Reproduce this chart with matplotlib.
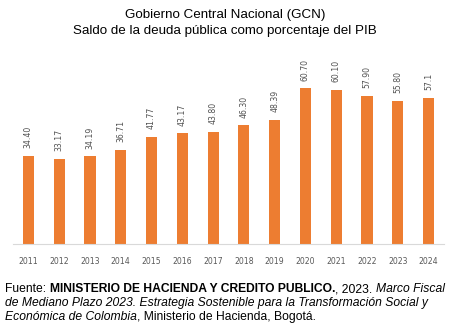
import matplotlib.pyplot as plt
import numpy as np

# Deuda bruta del GCN como % del PIB
years = ['2011', '2012', '2013', '2014', '2015', '2016', '2017',
         '2018', '2019', '2020', '2021', '2022', '2023', '2024']
debt = [34.40, 33.17, 34.19, 36.71, 41.77, 43.17, 43.80,
        46.30, 48.39, 60.70, 60.10, 57.90, 55.80, 57.1]
debt_labels = ['34.40', '33.17', '34.19', '36.71', '41.77', '43.17', '43.80',
               '46.30', '48.39', '60.70', '60.10', '57.90', '55.80', '57.1']

BAR_COLOR = '#ED7D31'

plt.rcParams['font.family'] = ['Liberation Sans', 'DejaVu Sans']

fig = plt.figure(figsize=(4.51, 3.29), dpi=100)
W, H = 451, 329

# eje de barras: base en y=244 px
ax = fig.add_axes([13 / W, 1 - 244 / H, (444 - 13) / W, (244 - 84) / H])
x = np.arange(len(years))
ax.bar(x, debt, width=0.36, color=BAR_COLOR)
ax.set_xlim(-0.5, len(years) - 0.5)
ax.set_ylim(0, 62.4)

for xi, v, lab in zip(x, debt, debt_labels):
    ax.text(xi, v + 3.0, lab, rotation=90, ha='center', va='bottom',
            fontsize=5.6, color='#505050', family='DejaVu Sans', clip_on=False)

ax.set_xticks(x)
ax.set_xticklabels(years, fontsize=5.6, color='#595959', family='DejaVu Sans')
ax.tick_params(axis='x', length=0, pad=9)
ax.set_yticks([])
for s in ['top', 'right', 'left']:
    ax.spines[s].set_visible(False)
ax.spines['bottom'].set_color('#d9d9d9')
ax.spines['bottom'].set_linewidth(0.8)

# títulos
fig.text(225 / W, 1 - 15 / H, 'Gobierno Central Nacional (GCN)',
         ha='center', va='center', fontsize=9.6, color='black')
fig.text(225 / W, 1 - 31 / H, 'Saldo de la deuda pública como porcentaje del PIB',
         ha='center', va='center', fontsize=9.6, color='black')

# fuente
fs = 8.75
y1 = 1 - 289 / H
t = fig.text(5 / W, y1, 'Fuente: ', fontsize=fs, va='center')
t = ax.annotate('MINISTERIO DE HACIENDA Y CREDITO PUBLICO.', xycoords=t,
                xy=(1, 0.5), va='center', fontsize=fs, weight='bold',
                annotation_clip=False)
t = ax.annotate(', 2023. ', xycoords=t, xy=(1, 0.5), va='center', fontsize=fs,
                annotation_clip=False)
ax.annotate('Marco Fiscal', xycoords=t, xy=(1, 0.5), va='center', fontsize=fs,
            style='italic', annotation_clip=False)
fig.text(5 / W, 1 - 303 / H,
         'de Mediano Plazo 2023. Estrategia Sostenible para la Transformación Social y',
         fontsize=fs, va='center', style='italic')
t = fig.text(5 / W, 1 - 317 / H, 'Económica de Colombia', fontsize=fs,
             va='center', style='italic')
ax.annotate(', Ministerio de Hacienda, Bogotá.', xycoords=t, xy=(1, 0.5),
            va='center', fontsize=fs, annotation_clip=False)

fig.savefig('out.png', dpi=100)
